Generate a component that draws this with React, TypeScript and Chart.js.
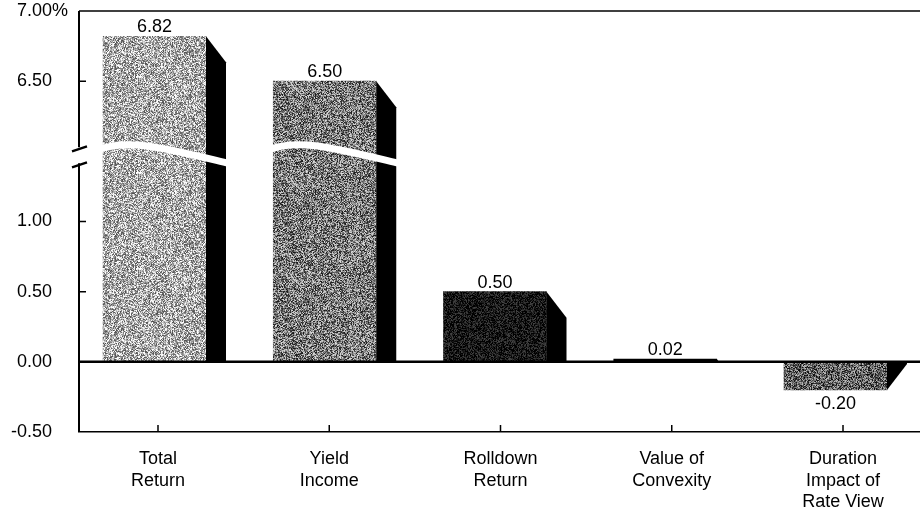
import React, { useEffect, useRef } from "react";
import { Chart, registerables } from "chart.js";

Chart.register(...registerables);

// ---- data ----
const categories: string[][] = [
  ["Total", "Return"],
  ["Yield", "Income"],
  ["Rolldown", "Return"],
  ["Value of", "Convexity"],
  ["Duration", "Impact of", "Rate View"],
];
const returns: number[] = [6.82, 6.5, 0.5, 0.02, -0.2];
const yTickValues: number[] = [-0.5, 0, 0.5, 1.0, 6.5, 7.0];
const yInnerTicks: number[] = [0.5, 1.0, 6.5];
const barTones: number[] = [172, 122, 24, 0, 100]; // mean grey of stipple
const barNoise: number[] = [95, 100, 45, 0, 95];

// broken axis: values above the break are shifted down
const BREAK_AXIS = 1.5;
const BREAK_SHIFT = 4.5;
const toAxis = (v: number) => (v > BREAK_AXIS ? v - BREAK_SHIFT : v);

const FONT = "'Liberation Sans', Arial, Helvetica, sans-serif";

function stipple(ctx: CanvasRenderingContext2D, mean: number, amp: number, seed: number) {
  const size = 96;
  const c = document.createElement("canvas");
  c.width = size;
  c.height = size;
  const g = c.getContext("2d")!;
  const img = g.createImageData(size, size);
  let s = seed >>> 0;
  for (let i = 0; i < size * size; i++) {
    s = (Math.imul(s, 1664525) + 1013904223) >>> 0;
    const r = s / 4294967296;
    const v = Math.max(0, Math.min(255, Math.round(mean + (r - 0.5) * 2 * amp)));
    img.data[i * 4] = v;
    img.data[i * 4 + 1] = v;
    img.data[i * 4 + 2] = v;
    img.data[i * 4 + 3] = 255;
  }
  g.putImageData(img, 0, 0);
  return ctx.createPattern(c, "repeat")!;
}

const decor = {
  id: "decor",
  afterDatasetsDraw(chart: any) {
    const { ctx, chartArea: a, scales } = chart;
    const y = scales.y;
    const x2 = scales.x2;
    const meta = chart.getDatasetMeta(0);
    const zeroY = y.getPixelForValue(0);
    const yB = y.getPixelForValue(BREAK_AXIS);
    const dx = 20;
    const dy = 26;
    ctx.save();

    // side faces
    ctx.fillStyle = "#000";
    meta.data.forEach((bar: any) => {
      const p = bar.getProps(["x", "y", "width"], true);
      const r = p.x + p.width / 2;
      const h = Math.abs(zeroY - p.y);
      if (h < 0.5) return;
      const dir = p.y < zeroY ? 1 : -1;
      const k = Math.min(1, h / dy);
      ctx.beginPath();
      ctx.moveTo(r, p.y);
      ctx.lineTo(r + dx * k, p.y + dir * dy * k);
      ctx.lineTo(r + dx * k, zeroY);
      ctx.lineTo(r, zeroY);
      ctx.closePath();
      ctx.fill();
    });

    // break wave through tall bars
    ctx.strokeStyle = "#fff";
    ctx.lineWidth = 7;
    meta.data.forEach((bar: any, i: number) => {
      if (returns[i] <= BREAK_AXIS) return;
      const p = bar.getProps(["x", "y", "width"], true);
      const L = p.x - p.width / 2;
      const R = p.x + p.width / 2 + dx;
      ctx.beginPath();
      ctx.moveTo(L - 3, yB - 2);
      ctx.bezierCurveTo(L + 25, yB - 13, L + 62, yB - 3, R + 3, yB + 12);
      ctx.stroke();
    });

    ctx.strokeStyle = "#000";
    // zero line
    ctx.lineWidth = 2.5;
    ctx.beginPath();
    ctx.moveTo(a.left, zeroY);
    ctx.lineTo(a.right, zeroY);
    ctx.stroke();

    // top border
    ctx.lineWidth = 1.5;
    ctx.beginPath();
    ctx.moveTo(a.left, a.top);
    ctx.lineTo(a.right, a.top);
    ctx.stroke();

    // left axis with break
    ctx.lineWidth = 2;
    ctx.beginPath();
    ctx.moveTo(a.left, a.top);
    ctx.lineTo(a.left, yB - 4);
    ctx.moveTo(a.left, yB + 12);
    ctx.lineTo(a.left, a.bottom);
    ctx.stroke();
    ctx.lineWidth = 2.5;
    ctx.beginPath();
    ctx.moveTo(a.left - 7, yB);
    ctx.lineTo(a.left + 8, yB - 5);
    ctx.moveTo(a.left - 7, yB + 16);
    ctx.lineTo(a.left + 8, yB + 11);
    ctx.stroke();

    // inward y ticks
    ctx.lineWidth = 1.5;
    ctx.beginPath();
    yInnerTicks.forEach((v) => {
      const py = y.getPixelForValue(toAxis(v));
      ctx.moveTo(a.left, py);
      ctx.lineTo(a.left + 7, py);
    });
    // inward x ticks
    x2.ticks.forEach((t: any) => {
      const px = x2.getPixelForValue(t.value);
      ctx.moveTo(px, a.bottom);
      ctx.lineTo(px, a.bottom - 7);
    });
    ctx.stroke();

    // value labels
    ctx.fillStyle = "#000";
    ctx.font = `18px ${FONT}`;
    ctx.textAlign = "center";
    ctx.textBaseline = "alphabetic";
    meta.data.forEach((bar: any, i: number) => {
      const p = bar.getProps(["x", "y"], true);
      const txt = returns[i].toFixed(2);
      if (returns[i] >= 0) ctx.fillText(txt, p.x, p.y - 4);
      else ctx.fillText(txt, p.x, p.y + 19);
    });

    // percent sign after top tick label
    ctx.textAlign = "left";
    ctx.textBaseline = "middle";
    const topVal = yTickValues[yTickValues.length - 1];
    ctx.fillText("%", a.left - 27, y.getPixelForValue(toAxis(topVal)));

    ctx.restore();
  },
};

export default function App() {
  const ref = useRef<HTMLCanvasElement>(null);

  useEffect(() => {
    const canvas = ref.current!;
    const c2d = canvas.getContext("2d")!;
    const patterns = barTones.map((m, i) => stipple(c2d, m, barNoise[i], 17 + i * 7919));

    const chart = new Chart(canvas, {
      type: "bar",
      data: {
        datasets: [
          {
            data: returns.map((v, i) => ({ x: i, y: toAxis(v) })) as any,
            backgroundColor: patterns as any,
            borderWidth: 0,
            barThickness: 103,
            xAxisID: "x",
            yAxisID: "y",
          },
        ],
      },
      options: {
        animation: false,
        responsive: false,
        maintainAspectRatio: false,
        devicePixelRatio: 1,
        layout: { padding: { left: 0, right: 0, top: 11, bottom: 0 } },
        plugins: { legend: { display: false }, tooltip: { enabled: false } },
        scales: {
          x: {
            type: "linear",
            display: false,
            min: -0.4435,
            max: 4.4963,
            offset: false,
          },
          x2: {
            type: "linear",
            position: "bottom",
            min: -0.4613,
            max: 4.4496,
            offset: false,
            grid: { display: false, drawTicks: false },
            border: { display: true, color: "#000", width: 1.5 },
            afterBuildTicks: (s: any) => {
              s.ticks = categories.map((_, i) => ({ value: i }));
            },
            afterFit: (s: any) => {
              s.height = 78;
              s.paddingLeft = 0;
              s.paddingRight = 0;
            },
            ticks: {
              autoSkip: false,
              maxRotation: 0,
              padding: 17,
              color: "#000",
              font: { family: FONT, size: 18, lineHeight: 1.17 },
              callback: (v: any) => categories[v as number],
            },
          } as any,
          y: {
            type: "linear",
            min: -0.5,
            max: 2.5,
            grid: { display: false, drawTicks: false },
            border: { display: false },
            afterBuildTicks: (s: any) => {
              s.ticks = yTickValues.map((v) => ({ value: toAxis(v) }));
            },
            afterFit: (s: any) => {
              s.width = 79;
              s.paddingTop = 0;
              s.paddingBottom = 0;
            },
            ticks: {
              padding: 27,
              color: "#000",
              font: { family: FONT, size: 18 },
              callback: (_v: any, i: number) => yTickValues[i].toFixed(2),
            },
          } as any,
        },
      },
      plugins: [decor],
    });
    return () => chart.destroy();
  }, []);

  return (
    <div style={{ position: "absolute", left: 0, top: 0, width: 920, height: 510, background: "#fff" }}>
      <canvas ref={ref} width={920} height={510} style={{ display: "block", width: 920, height: 510 }} />
    </div>
  );
}
